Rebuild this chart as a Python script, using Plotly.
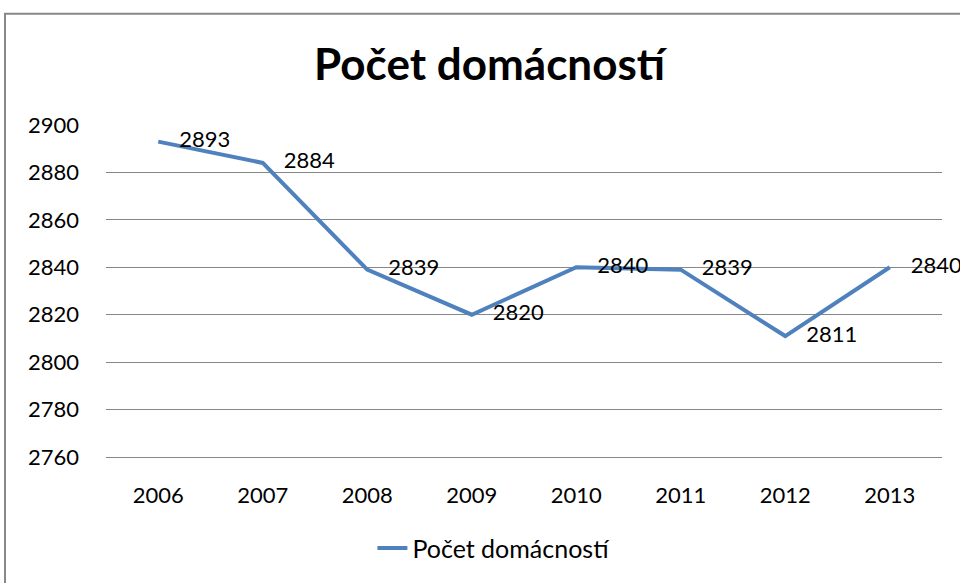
import plotly.graph_objects as go

years = ["2006", "2007", "2008", "2009", "2010", "2011", "2012", "2013"]
households = [2893, 2884, 2839, 2820, 2840, 2839, 2811, 2840]
series_name = "Počet domácností"
y_ticks = [2760, 2780, 2800, 2820, 2840, 2860, 2880, 2900]

FONT = "Lato, Carlito, Calibri, sans-serif"
LINE_BLUE = "#4F81BD"
GRID = "#878787"

fig = go.Figure()
fig.add_trace(go.Scatter(
    x=years, y=households, name=series_name, mode="lines",
    line=dict(color=LINE_BLUE, width=4),
))
# data labels, pushed right of each point by an invisible marker
fig.add_trace(go.Scatter(
    x=years, y=households, mode="markers+text", showlegend=False,
    text=[str(v) for v in households], textposition="middle right",
    marker=dict(size=32, color="rgba(0,0,0,0)"),
    textfont=dict(size=22, color="#000000", family=FONT),
    hoverinfo="skip", cliponaxis=False,
))

fig.update_layout(
    width=960, height=583,
    margin=dict(l=106, r=18, t=125, b=124),
    paper_bgcolor="white", plot_bgcolor="white",
    font=dict(family=FONT, size=22, color="#000000"),
    title=dict(text="<b>Počet domácností</b>", x=0.51, xanchor="center",
               y=1 - 65 / 583, yanchor="middle", yref="container",
               font=dict(size=44, family=FONT, color="#000000")),
    showlegend=True,
    legend=dict(orientation="h", x=0.464, xanchor="center", y=-0.275,
                yanchor="middle", font=dict(size=25, color="#000000"),
                bgcolor="rgba(0,0,0,0)"),
    shapes=[dict(type="rect", xref="paper", yref="paper",
                 x0=-0.1208, x1=1.1, y0=-0.45, y1=1.335,
                 line=dict(color="#888888", width=2), layer="below")],
)
# bottom gridline (2760) drawn as the x axis line
fig.update_xaxes(type="category", range=[-0.5, 7.5], showgrid=False,
                 showline=True, linecolor=GRID, linewidth=1, ticks="",
                 zeroline=False, ticklabelstandoff=19, automargin=False)
fig.update_yaxes(range=[2760, 2900], tickvals=y_ticks, showgrid=True,
                 gridcolor=GRID, gridwidth=1, showline=False, ticks="",
                 zeroline=False, ticklabelstandoff=26, automargin=False)

fig.write_html("out.html", config={"displayModeBar": False},
               post_script="document.body.style.margin='0';")
